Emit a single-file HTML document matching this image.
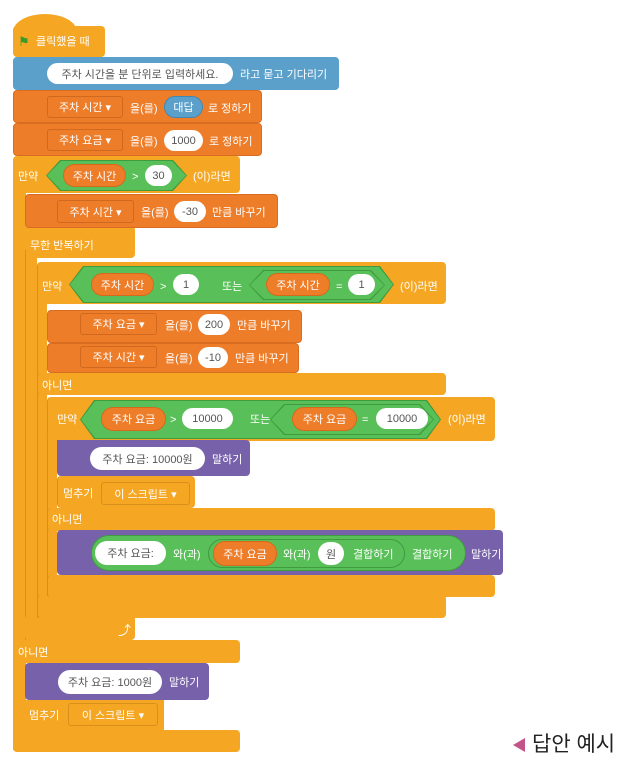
<!DOCTYPE html>
<html><head><meta charset="utf-8"><style>
body{margin:0;width:633px;height:775px;background:#fff;position:relative;overflow:hidden;font-family:"Liberation Sans","Noto Sans CJK KR",sans-serif}
div{position:absolute;box-sizing:border-box}
.y{background:#F5A623;border-radius:4px}
.o{background:#EE7D2A;border-radius:4px;border:1px solid #d96d1f}
.b{background:#5BA0CA;border-radius:4px}
.p{background:#7761AA;border-radius:4px}
.t{color:#fff;font-size:11px;line-height:16px;white-space:nowrap;margin-top:2px}
.w{background:#fff;border-radius:12px;color:#555;font-size:11px;text-align:center;display:flex;align-items:center;justify-content:center;white-space:nowrap}
.op{background:#EE7D2A;border-radius:12px;color:#fff;font-size:11px;display:flex;align-items:center;justify-content:center;white-space:nowrap;border:1px solid #d56a1a}
.dd{background:#EE7D2A;border:1px solid #d0691d;border-radius:3px;color:#fff;font-size:11px;display:flex;align-items:center;justify-content:center;white-space:nowrap}
.dy{background:#F5A623;border:1px solid #d9901a;border-radius:3px;color:#fff;font-size:11px;display:flex;align-items:center;justify-content:center;white-space:nowrap}
.hx{background:#3E9B3E;clip-path:polygon(14px 0,calc(100% - 14px) 0,100% 50%,calc(100% - 14px) 100%,14px 100%,0 50%)}
.hx>div{position:absolute;left:1px;top:1px;right:1px;bottom:1px;background:#59C059;clip-path:polygon(14px 0,calc(100% - 14px) 0,100% 50%,calc(100% - 14px) 100%,14px 100%,0 50%)}
</style></head><body>
<div class="y" style="left:13px;top:156px;width:227px;height:37px"></div>
<div class="y" style="left:13px;top:180px;width:13px;height:570px;border-radius:0"></div>
<div class="y" style="left:13px;top:640px;width:227px;height:23px"></div>
<div class="y" style="left:13px;top:730px;width:227px;height:22px"></div>
<div class="y" style="left:25px;top:226px;width:110px;height:32px"></div>
<div class="y" style="left:25px;top:250px;width:12px;height:390px;border-radius:0;border-left:1px solid #d9901a"></div>
<div class="y" style="left:25px;top:615px;width:110px;height:25px"></div>
<div class="y" style="left:37px;top:262px;width:409px;height:42px;border-left:1px solid #d9901a"></div>
<div class="y" style="left:37px;top:300px;width:10px;height:318px;border-radius:0;border-left:1px solid #d9901a"></div>
<div class="y" style="left:37px;top:373px;width:409px;height:22px;border-left:1px solid #d9901a"></div>
<div class="y" style="left:37px;top:595px;width:409px;height:23px;border-left:1px solid #d9901a"></div>
<div class="y" style="left:47px;top:397px;width:448px;height:44px;border-left:1px solid #d9901a"></div>
<div class="y" style="left:47px;top:438px;width:10px;height:158px;border-radius:0;border-left:1px solid #d9901a"></div>
<div class="y" style="left:47px;top:508px;width:448px;height:23px;border-left:1px solid #d9901a"></div>
<div class="y" style="left:47px;top:575px;width:448px;height:22px;border-left:1px solid #d9901a"></div>

<div class="y" style="left:13px;top:14px;width:64px;height:30px;border-radius:50% 50% 0 0/60% 60% 0 0"></div>
<div class="y" style="left:13px;top:26px;width:92px;height:31px"></div>
<div class="t" style="left:18px;top:32px;color:#3a9b2a;font-size:13px">⚑</div>
<div class="t" style="left:36px;top:32px">클릭했을 때</div>
<div class="b" style="left:13px;top:57px;width:326px;height:33px"></div>
<div class="w" style="left:47px;top:63px;width:186px;height:21px">주차 시간을 분 단위로 입력하세요.</div>
<div class="t" style="left:240px;top:65px">라고 묻고 기다리기</div>
<div class="o" style="left:13px;top:90px;width:249px;height:33px"></div>
<div class="dd" style="left:47px;top:96px;width:76px;height:22px">주차 시간 ▾</div>
<div class="t" style="left:130px;top:99px">을(를)</div>
<div class="w" style="left:164px;top:96px;width:39px;height:22px;background:#5BA0CA;color:#fff;border:1px solid #3f87b5">대답</div>
<div class="t" style="left:208px;top:99px">로 정하기</div>
<div class="o" style="left:13px;top:123px;width:249px;height:33px"></div>
<div class="dd" style="left:47px;top:129px;width:76px;height:22px">주차 요금 ▾</div>
<div class="t" style="left:130px;top:132px">을(를)</div>
<div class="w" style="left:164px;top:130px;width:39px;height:21px">1000</div>
<div class="t" style="left:209px;top:132px">로 정하기</div>
<div class="t" style="left:18px;top:167px">만약</div>
<div class="hx" style="left:46px;top:160px;width:141px;height:31px"><div></div></div>
<div class="op" style="left:63px;top:164px;width:63px;height:23px">주차 시간</div>
<div class="t" style="left:132px;top:167px">&gt;</div>
<div class="w" style="left:145px;top:165px;width:27px;height:21px">30</div>
<div class="t" style="left:193px;top:167px">(이)라면</div>
<div class="o" style="left:25px;top:194px;width:253px;height:34px"></div>
<div class="dd" style="left:57px;top:200px;width:77px;height:23px">주차 시간 ▾</div>
<div class="t" style="left:141px;top:203px">을(를)</div>
<div class="w" style="left:174px;top:201px;width:32px;height:21px">-30</div>
<div class="t" style="left:212px;top:203px">만큼 바꾸기</div>
<div class="t" style="left:30px;top:236px">무한 반복하기</div>
<div class="t" style="left:42px;top:277px">만약</div>
<div class="hx" style="left:69px;top:266px;width:325px;height:37px"><div></div></div>
<div class="op" style="left:91px;top:273px;width:63px;height:23px">주차 시간</div>
<div class="t" style="left:160px;top:277px">&gt;</div>
<div class="w" style="left:173px;top:274px;width:26px;height:21px">1</div>
<div class="t" style="left:222px;top:277px">또는</div>
<div class="hx" style="left:249px;top:270px;width:136px;height:30px"><div></div></div>
<div class="op" style="left:266px;top:273px;width:64px;height:23px">주차 시간</div>
<div class="t" style="left:336px;top:277px">=</div>
<div class="w" style="left:348px;top:274px;width:27px;height:21px">1</div>
<div class="t" style="left:400px;top:277px">(이)라면</div>
<div class="o" style="left:47px;top:310px;width:255px;height:33px"></div>
<div class="dd" style="left:80px;top:313px;width:77px;height:22px">주차 요금 ▾</div>
<div class="t" style="left:165px;top:316px">을(를)</div>
<div class="w" style="left:198px;top:314px;width:32px;height:21px">200</div>
<div class="t" style="left:237px;top:316px">만큼 바꾸기</div>
<div class="o" style="left:47px;top:343px;width:252px;height:30px"></div>
<div class="dd" style="left:80px;top:346px;width:77px;height:22px">주차 시간 ▾</div>
<div class="t" style="left:165px;top:349px">을(를)</div>
<div class="w" style="left:198px;top:347px;width:30px;height:21px">-10</div>
<div class="t" style="left:235px;top:349px">만큼 바꾸기</div>
<div class="t" style="left:42px;top:376px">아니면</div>
<div class="t" style="left:57px;top:410px">만약</div>
<div class="hx" style="left:80px;top:400px;width:361px;height:39px"><div></div></div>
<div class="op" style="left:101px;top:407px;width:65px;height:24px">주차 요금</div>
<div class="t" style="left:170px;top:410px">&gt;</div>
<div class="w" style="left:182px;top:408px;width:51px;height:21px">10000</div>
<div class="t" style="left:250px;top:410px">또는</div>
<div class="hx" style="left:270px;top:404px;width:164px;height:31px"><div></div></div>
<div class="op" style="left:292px;top:407px;width:65px;height:24px">주차 요금</div>
<div class="t" style="left:362px;top:410px">=</div>
<div class="w" style="left:376px;top:408px;width:52px;height:21px">10000</div>
<div class="t" style="left:448px;top:410px">(이)라면</div>
<div class="p" style="left:57px;top:440px;width:193px;height:36px;border-radius:0 4px 4px 4px"></div>
<div class="w" style="left:90px;top:447px;width:115px;height:23px">주차 요금: 10000원</div>
<div class="t" style="left:212px;top:450px">말하기</div>
<div class="y" style="left:57px;top:476px;width:138px;height:32px;border-left:1px solid #d9901a"></div>
<div class="t" style="left:63px;top:484px">멈추기</div>
<div class="dy" style="left:101px;top:482px;width:89px;height:23px">이 스크립트 ▾</div>
<div class="t" style="left:52px;top:510px">아니면</div>
<div class="p" style="left:57px;top:530px;width:446px;height:45px"></div>
<div style="left:91px;top:535px;width:375px;height:36px;background:#59C059;border-radius:18px;border:1px solid #3e9b3e"></div>
<div class="w" style="left:95px;top:541px;width:71px;height:24px">주차 요금:</div>
<div class="t" style="left:173px;top:545px">와(과)</div>
<div style="left:208px;top:539px;width:197px;height:29px;background:#59C059;border-radius:15px;border:1px solid #3e9b3e"></div>
<div class="op" style="left:213px;top:541px;width:64px;height:25px">주차 요금</div>
<div class="t" style="left:283px;top:545px">와(과)</div>
<div class="w" style="left:318px;top:542px;width:26px;height:23px">원</div>
<div class="t" style="left:353px;top:545px">결합하기</div>
<div class="t" style="left:412px;top:545px">결합하기</div>
<div class="t" style="left:471px;top:545px">말하기</div>
<div class="t" style="left:118px;top:621px;font-size:13px">⤴</div>
<div class="t" style="left:18px;top:643px">아니면</div>
<div class="p" style="left:25px;top:663px;width:184px;height:37px"></div>
<div class="w" style="left:58px;top:670px;width:104px;height:24px">주차 요금: 1000원</div>
<div class="t" style="left:169px;top:673px">말하기</div>
<div class="y" style="left:25px;top:700px;width:139px;height:31px;border-radius:0"></div>
<div class="t" style="left:29px;top:706px">멈추기</div>
<div class="dy" style="left:68px;top:703px;width:90px;height:23px">이 스크립트 ▾</div>
<div style="left:513px;top:738px;width:0;height:0;border-top:7px solid transparent;border-bottom:7px solid transparent;border-right:12px solid #C2548A"></div>
<div style="left:532px;top:731px;font-size:21px;line-height:28px;color:#222;white-space:nowrap">답안 예시</div>
</body></html>
